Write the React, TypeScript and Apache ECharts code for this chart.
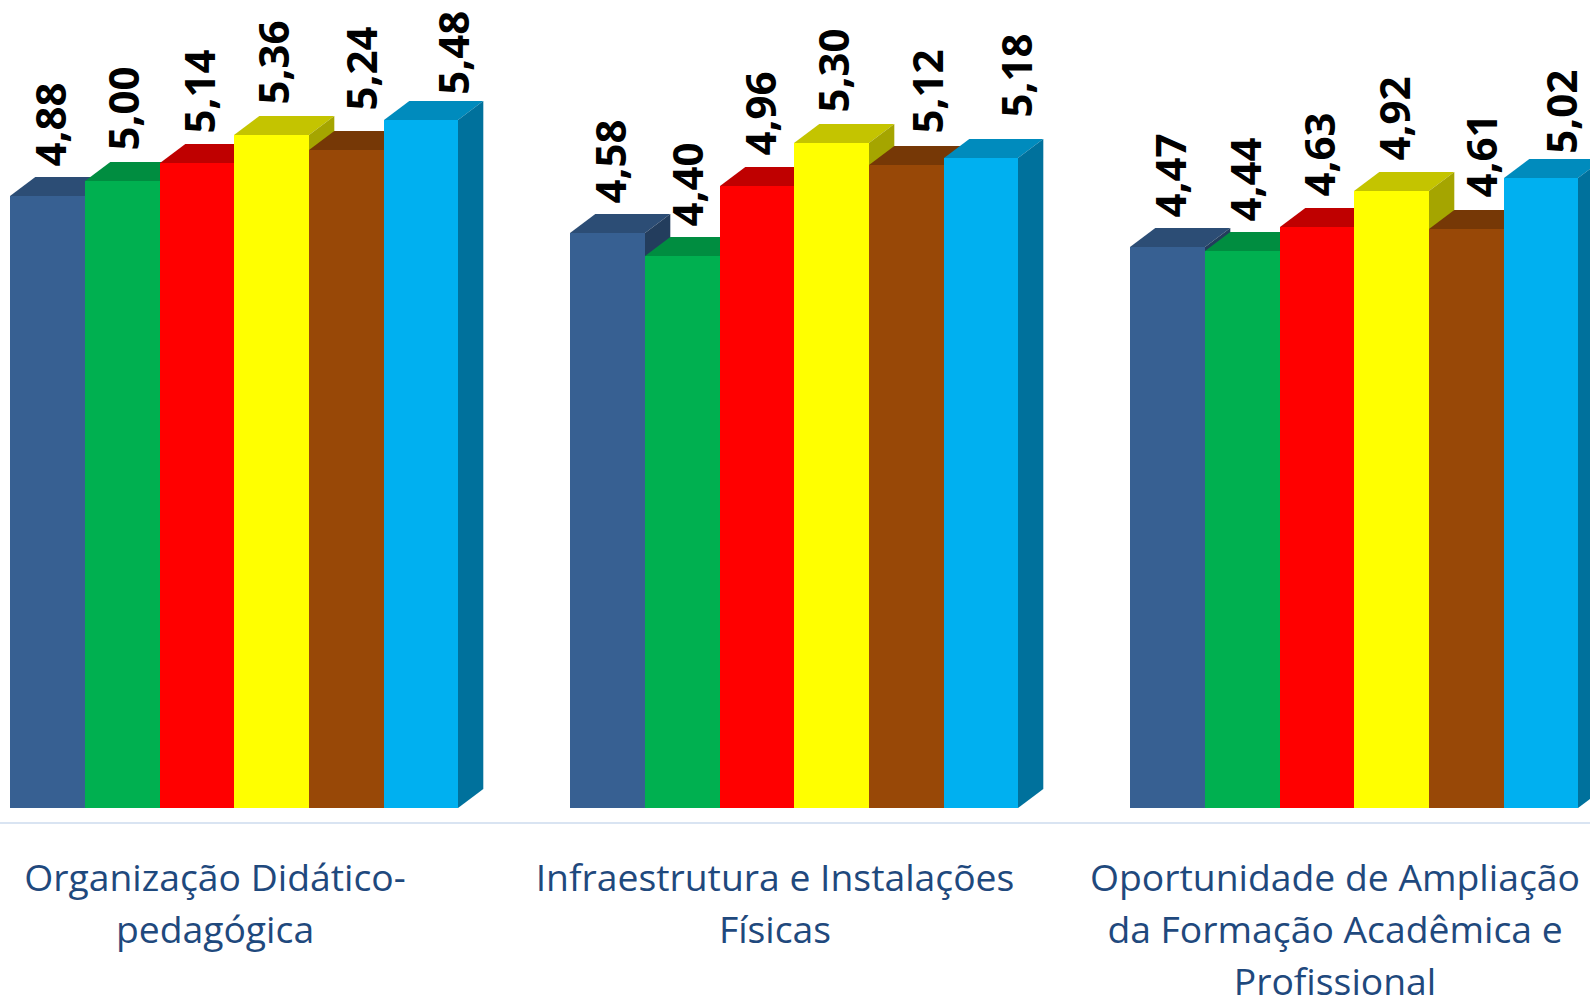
import React, { useEffect, useRef } from "react";
import * as echarts from "echarts";

const categories = [
  "Organização Didático-\npedagógica",
  "Infraestrutura e Instalações\nFísicas",
  "Oportunidade de Ampliação\nda Formação Acadêmica e\nProfissional",
];
const serieA = [4.88, 4.58, 4.47];
const serieB = [5.0, 4.4, 4.44];
const serieC = [5.14, 4.96, 4.63];
const serieD = [5.36, 5.3, 4.92];
const serieE = [5.24, 5.12, 4.61];
const serieF = [5.48, 5.18, 5.02];
const seriesValues = [serieA, serieB, serieC, serieD, serieE, serieF];

const palette = [
  { front: "#376092", top: "#2c4d75", side: "#233d5d" },
  { front: "#00b050", top: "#008d40", side: "#007034" },
  { front: "#ff0000", top: "#bf0000", side: "#a00000" },
  { front: "#ffff00", top: "#c4c400", side: "#a5a500" },
  { front: "#984807", top: "#763806", side: "#5f2d04" },
  { front: "#00b0f0", top: "#008bbd", side: "#00719c" },
];

// Manual placement of each data label: shift from the bar centre, gap above the bar's front top
const labelShiftX = [
  [2, 2, 2],
  [0, 4, 2],
  [1, 2, 1],
  [1, 1, 2],
  [14, 20, 14],
  [31, 34, 19],
];
const labelGap = [
  [29, 29, 29],
  [30, 29, 29],
  [29, 30, 30],
  [30, 30, 30],
  [39, 31, 31],
  [25, 40, 24],
];

const BAR_FRACTION = 74.7 / 560;
const GROUP_SHIFT = 19.3 / 560;
const DEPTH_X = 25.3;
const DEPTH_Y = 19;

const makeRenderItem = (s: number) => (_params: any, api: any) => {
  const cat = api.value(0);
  const val = api.value(1);
  const band = api.size([1, 0])[0];
  const bw = band * BAR_FRACTION;
  const [cx, yRaw] = api.coord([cat, val]);
  const yTop = Math.round(yRaw);
  const yBase = Math.round(api.coord([cat, 0])[1]);
  const left = cx + band * GROUP_SHIFT - 3 * bw + s * bw;
  const x0 = Math.round(left);
  const x1 = Math.round(left + bw);
  const c = palette[s];
  const labelX = (x0 + x1) / 2 + labelShiftX[s][cat];
  const labelY = yTop - labelGap[s][cat] * 1.014;
  return {
    type: "group",
    children: [
      {
        type: "polygon",
        shape: { points: [[x0, yTop], [x0 + DEPTH_X, yTop - DEPTH_Y], [x1 + DEPTH_X, yTop - DEPTH_Y], [x1, yTop]] },
        style: { fill: c.top },
      },
      {
        type: "polygon",
        shape: { points: [[x1, yTop], [x1 + DEPTH_X, yTop - DEPTH_Y], [x1 + DEPTH_X, yBase - DEPTH_Y], [x1, yBase]] },
        style: { fill: c.side },
      },
      {
        type: "rect",
        shape: { x: x0, y: yTop, width: x1 - x0, height: yBase - yTop },
        style: { fill: c.front },
      },
      {
        type: "text",
        x: labelX,
        y: labelY,
        rotation: Math.PI / 2,
        style: {
          text: val.toFixed(2).replace(".", ","),
          fill: "#000000",
          font: 'bold 42px "Open Sans"',
          align: "left",
          verticalAlign: "middle",
        },
      },
    ],
  };
};

export default function App() {
  const ref = useRef<HTMLDivElement>(null);
  useEffect(() => {
    const chart = echarts.init(ref.current!, undefined, { renderer: "svg" });
    chart.setOption({
      animation: false,
      backgroundColor: "#ffffff",
      grid: { left: -65, right: -25, top: 4.8, bottom: 189, containLabel: false, outerBoundsMode: "none" },
      xAxis: {
        type: "category",
        data: categories,
        offset: 15,
        axisLine: { show: true, onZero: false, lineStyle: { color: "#d9e4f2", width: 2 } },
        axisTick: { show: false },
        splitLine: { show: false },
        axisLabel: {
          interval: 0,
          margin: 27,
          color: "#1f497d",
          fontFamily: "Open Sans",
          fontSize: 37.3,
          lineHeight: 52,
          align: "center",
        },
      },
      yAxis: { type: "value", min: 0, max: 6.4, show: false },
      series: seriesValues.map((vals, s) => ({
        type: "custom",
        renderItem: makeRenderItem(s),
        encode: { x: 0, y: 1 },
        data: vals.map((v, i) => [i, v]),
      })),
    });
    return () => chart.dispose();
  }, []);
  return (
    <div
      ref={ref}
      style={{ position: "absolute", left: 0, top: 0, width: 1590, height: 997, overflow: "hidden" }}
    />
  );
}
